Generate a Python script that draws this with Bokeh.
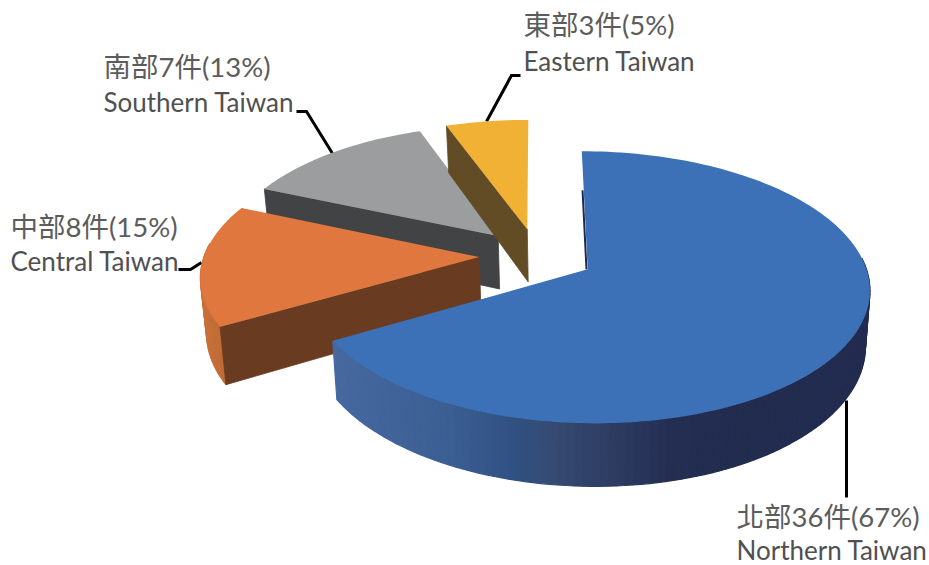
import numpy as np
from bokeh.plotting import figure
from bokeh.models import Range1d
from bokeh.core.properties import value
from bokeh.embed import file_html
from bokeh.resources import INLINE

regions = ["Northern Taiwan", "Central Taiwan", "Southern Taiwan", "Eastern Taiwan"]
counts = [36, 8, 7, 3]
zh_labels = ["北部36件(67%)", "中部8件(15%)", "南部7件(13%)", "東部3件(5%)"]
top_colors = ["#3c70b7", "#df773e", "#9c9d9f", "#f0b134"]
cut_colors = [None, "#693b21", "#424345", "#624c25"]
label_x = [736, 10, 103, 523]
label_y_zh = [516, 226, 66, 24]
label_y_en = [549, 260, 101, 60]
leader_x = [[846, 846], [178, 190, 201], [296, 306, 332], [520, 511, 486]]
leader_y = [[400, 497], [269, 269, 262], [111, 111, 153], [75, 75, 121]]

CX, CY, RX, RY, K, EXPLODE, DEPTH, CONV = 536.5, 255, 275, 130, 0.13, 0.21, 54, 0.016


def hex_rgb(h):
    return np.array([int(h[i:i + 2], 16) for i in (1, 3, 5)], float)


def project(X, Z, below=False):
    X, Z = np.asarray(X, float), np.asarray(Z, float)
    s = 1 / (1 + K * Z)
    x = CX + RX * X * s
    y = CY - RY * Z * s
    if below:
        y = y + DEPTH * s
        x = x + (587 - x) * CONV
    return x, y


def ramp(stops_x, stops_c, x):
    cols = np.array([hex_rgb(c) for c in stops_c])
    rgb = [np.interp(x, stops_x, cols[:, i]) for i in range(3)]
    return "#%02x%02x%02x" % tuple(int(round(v)) for v in rgb)


p = figure(width=929, height=565, x_range=Range1d(0, 929), y_range=Range1d(565, 0),
           output_backend="svg", toolbar_location=None, min_border=0,
           outline_line_color=None, background_fill_color="white", border_fill_color="white")
p.axis.visible = False
p.grid.visible = False

for lx, ly in zip(leader_x, leader_y):
    p.line(lx, ly, line_color="black", line_width=3, line_join="miter")

fractions = np.cumsum([0] + counts) / sum(counts)
slices = []
for i in range(len(counts)):
    a0, a1 = 2 * np.pi * fractions[i], 2 * np.pi * fractions[i + 1]
    mid = (a0 + a1) / 2
    slices.append((i, a0, a1, EXPLODE * np.sin(mid), EXPLODE * np.cos(mid)))

wall_ramps = {
    0: ([337, 450, 510, 554, 610, 670, 740], ["#46689f", "#3b5e93", "#315183", "#364a72", "#2e3c63", "#242e52", "#222c4f"]),
    1: ([200, 225], ["#c8703a", "#bd6a34"]),
    2: ([0, 900], ["#6f7072", "#6f7072"]),
    3: ([0, 900], ["#a37a25", "#a37a25"]),
}

for i, a0, a1, ox, oz in [slices[2], slices[3], slices[1], slices[0]]:
    t = np.linspace(a0, a1, max(8, int(np.degrees(a1 - a0) / 1.5)))
    rim_X, rim_Z = ox + np.sin(t), oz + np.cos(t)
    tx, ty = project(rim_X, rim_Z)
    bx, by = project(rim_X, rim_Z, below=True)
    qx, qy, qc = [], [], []
    for j in range(len(t) - 1):
        if np.cos(t[j]) < 0.1:
            qx.append([tx[j], tx[j + 1], bx[j + 1], bx[j]])
            qy.append([ty[j], ty[j + 1], by[j + 1], by[j]])
            qc.append(ramp(*wall_ramps[i], (tx[j] + tx[j + 1]) / 2))
    if qx:
        p.patches(qx, qy, fill_color=qc, line_color=qc, line_width=1.2)

    ax, ay = project([ox], [oz])
    abx, aby = project([ox], [oz], below=True)
    if cut_colors[i]:
        p.patch([ax[0], tx[0], bx[0], abx[0]], [ay[0], ty[0], by[0], aby[0]],
                fill_color=cut_colors[i], line_color=cut_colors[i], line_width=0.8)
    else:
        f = np.array([0.33, 1.0])
        sx = ax[0] + (tx[0] - ax[0]) * (1 - f)
        sy = ay[0] + (ty[0] - ay[0]) * (1 - f)
        p.line(sx - 1.2, sy, line_color="#1f2a4d", line_width=2)
    p.patch(np.r_[ax, tx], np.r_[ay, ty], fill_color=top_colors[i], line_color=None)

CJK = value("Lato, 'Noto Sans CJK TC'")
LATIN = value("Lato")
for i in range(len(counts)):
    p.text([label_x[i]], [label_y_zh[i]], text=[zh_labels[i]], text_font=CJK, text_font_size="27.5px",
           text_color="#5c5c5c", text_baseline="middle", text_align="left")
    p.text([label_x[i]], [label_y_en[i]], text=[regions[i]], text_font=LATIN, text_font_size="26px",
           text_color="#505050", text_baseline="middle", text_align="left")

open("out.html", "w").write(file_html(p, INLINE))
